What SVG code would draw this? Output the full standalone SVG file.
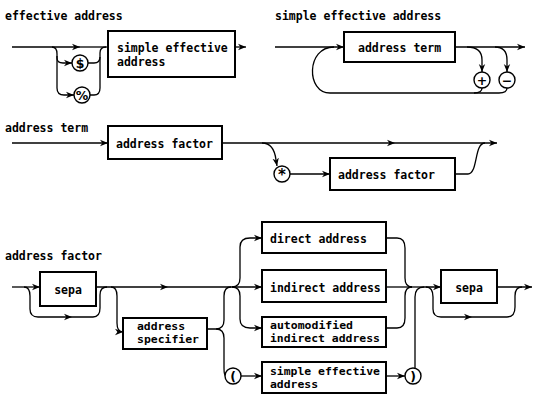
<svg xmlns="http://www.w3.org/2000/svg" width="533" height="395" viewBox="0 0 533 395">
<style>
text{font-family:"DejaVu Sans Mono","Liberation Mono",monospace;font-size:11.5px;font-weight:bold;fill:#000}
text.t2{font-size:11px}
.box{fill:#fff;stroke:#000;stroke-width:2}
.c{fill:#fff;stroke:#000;stroke-width:1.4}
.ln{fill:none;stroke:#000;stroke-width:1.3}
.sym{font-family:"DejaVu Sans","Liberation Sans",sans-serif;font-size:12.5px;text-anchor:middle}
</style>
<defs>
<marker id="a" viewBox="0 0 10 10" refX="10" refY="5" markerWidth="8" markerHeight="8" markerUnits="userSpaceOnUse" orient="auto">
<path d="M0,1 L10,5 L0,9 L3,5 z" fill="#000"/>
</marker>
</defs>
<rect width="533" height="395" fill="#fff"/>

<g id="titles">
<text x="5" y="20">effective address</text>
<text x="275" y="20">simple effective address</text>
<text x="5" y="132">address term</text>
<text x="5" y="260">address factor</text>
</g>

<g id="connectors">
<!-- effective address -->
<path class="ln" d="M12 47 L80 47" marker-end="url(#a)"/>
<path class="ln" d="M80 47 L108 47"/>
<path class="ln" d="M52 47 Q57 47 57 54 L57 58 Q57 63 63 63 L72 63" marker-end="url(#a)"/>
<path class="ln" d="M57 56 L57 88 Q57 95 64 95 L74 95" marker-end="url(#a)"/>
<path class="ln" d="M88 63 L94 63 Q100 63 100 57 L100 53 Q100 47 106 47"/>
<path class="ln" d="M90 95 L94 95 Q100 95 100 88 L100 57"/>
<path class="ln" d="M235 47 L246 47" marker-end="url(#a)"/>
<!-- simple effective address -->
<path class="ln" d="M275 47 L344 47" marker-end="url(#a)"/>
<path class="ln" d="M455 47 L525 47" marker-end="url(#a)"/>
<path class="ln" d="M467 47 Q482 47 482 60 L482 72" marker-end="url(#a)"/>
<path class="ln" d="M495 47 Q507 47 507 60 L507 72" marker-end="url(#a)"/>
<path class="ln" d="M507 88 Q507 93 499 93 L330 93 C306 93 306 47 334 47"/>
<path class="ln" d="M482 88 Q482 93 474 93"/>
<!-- address term -->
<path class="ln" d="M12 143 L108 143" marker-end="url(#a)"/>
<path class="ln" d="M222 143 L395 143" marker-end="url(#a)"/>
<path class="ln" d="M395 143 L497 143" marker-end="url(#a)"/>
<path class="ln" d="M262 143 Q274 143 276 160 L277 166" marker-end="url(#a)"/>
<path class="ln" d="M290 174 L330 174" marker-end="url(#a)"/>
<path class="ln" d="M455 174 L468 174 C478 174 474 143 485 143"/>
<!-- address factor -->
<path class="ln" d="M12 287 L40 287" marker-end="url(#a)"/>
<path class="ln" d="M24 287 Q30 287 30 296 L30 309 Q30 317 38 317 L72 317" marker-end="url(#a)"/>
<path class="ln" d="M72 317 L93 317 Q100 317 100 308 L100 295 Q100 287 107 287"/>
<path class="ln" d="M96 287 L168 287" marker-end="url(#a)"/>
<path class="ln" d="M168 287 L262 287" marker-end="url(#a)"/>
<path class="ln" d="M111 287 Q117 287 117 296 L117 323 Q117 332 123 332" marker-end="url(#a)"/>
<path class="ln" d="M207 329 L216 329 Q224 329 224 320 L224 296 Q224 287 231 287"/>
<path class="ln" d="M216 329 Q224 329 224 338 L224 368 Q224 376 226 376"/>
<path class="ln" d="M232 287 Q240 287 240 278 L240 247 Q240 238 250 238 L262 238" marker-end="url(#a)"/>
<path class="ln" d="M232 287 Q240 287 240 296 L240 319 Q240 328 250 328 L262 328" marker-end="url(#a)"/>
<path class="ln" d="M241 376 L262 376" marker-end="url(#a)"/>
<path class="ln" d="M386 238 L397 238 Q405 238 405 248 L405 278 Q405 287 412 287"/>
<path class="ln" d="M386 287 L412 287"/>
<path class="ln" d="M386 328 L397 328 Q405 328 405 318 L405 296 Q405 287 412 287"/>
<path class="ln" d="M386 376 L405 376" marker-end="url(#a)"/>
<path class="ln" d="M415 368 L415 297 Q415 287 424 287 L441 287" marker-end="url(#a)"/>
<path class="ln" d="M410 287 L424 287"/>
<path class="ln" d="M426 287 Q433 287 433 297 L433 309 Q433 317 441 317 L472 317" marker-end="url(#a)"/>
<path class="ln" d="M472 317 L507 317 Q515 317 515 307 L515 296 Q515 287 522 287"/>
<path class="ln" d="M497 287 L532 287" marker-end="url(#a)"/>
</g>

<g id="n-sea1">
<rect class="box" x="108" y="31" width="127" height="46"/>
<text x="117" y="52">simple effective</text>
<text x="117" y="66">address</text>
</g>
<g id="n-dollar"><circle class="c" cx="80" cy="63" r="8"/><text class="sym" x="80" y="67.5">$</text></g>
<g id="n-percent"><circle class="c" cx="82" cy="95" r="8"/><text class="sym" x="82" y="99.5">%</text></g>

<g id="n-term"><rect class="box" x="344" y="32" width="111" height="30"/><text x="358" y="52">address term</text></g>
<g id="n-plus"><circle class="c" cx="482" cy="80" r="8"/><text class="sym" x="482" y="84.5">+</text></g>
<g id="n-minus"><circle class="c" cx="507" cy="80" r="8"/><text class="sym" x="507" y="84.5">−</text></g>

<g id="n-factor1"><rect class="box" x="108" y="126" width="114" height="33"/><text x="116" y="148">address factor</text></g>
<g id="n-star"><circle class="c" cx="282" cy="174" r="8"/><text class="sym" x="282" y="180" style="font-size:15px">*</text></g>
<g id="n-factor2"><rect class="box" x="330" y="158" width="125" height="32"/><text x="338" y="179">address factor</text></g>

<g id="n-sepa1"><rect class="box" x="40" y="272" width="56" height="34"/><text x="68" y="294" text-anchor="middle">sepa</text></g>
<g id="n-spec"><rect class="box" x="123" y="318" width="84" height="31"/><text class="t2" x="137" y="330" textLength="48" lengthAdjust="spacingAndGlyphs">address</text><text class="t2" x="137" y="343" textLength="62" lengthAdjust="spacingAndGlyphs">specifier</text></g>
<g id="n-direct"><rect class="box" x="262" y="222" width="124" height="31"/><text x="270" y="243">direct address</text></g>
<g id="n-indirect"><rect class="box" x="262" y="270" width="124" height="32"/><text x="270" y="292">indirect address</text></g>
<g id="n-auto"><rect class="box" x="262" y="317" width="124" height="30"/><text class="t2" x="270" y="329" textLength="83" lengthAdjust="spacingAndGlyphs">automodified</text><text class="t2" x="270" y="342" textLength="110" lengthAdjust="spacingAndGlyphs">indirect address</text></g>
<g id="n-sea2"><rect class="box" x="262" y="362" width="124" height="31"/><text class="t2" x="270" y="375" textLength="110" lengthAdjust="spacingAndGlyphs">simple effective</text><text class="t2" x="270" y="388" textLength="48" lengthAdjust="spacingAndGlyphs">address</text></g>
<g id="n-lparen"><circle class="c" cx="233" cy="376" r="8"/><text class="sym" x="233" y="380.5">(</text></g>
<g id="n-rparen"><circle class="c" cx="413" cy="376" r="8"/><text class="sym" x="413" y="380.5">)</text></g>
<g id="n-sepa2"><rect class="box" x="441" y="270" width="56" height="33"/><text x="469" y="292" text-anchor="middle">sepa</text></g>
</svg>
